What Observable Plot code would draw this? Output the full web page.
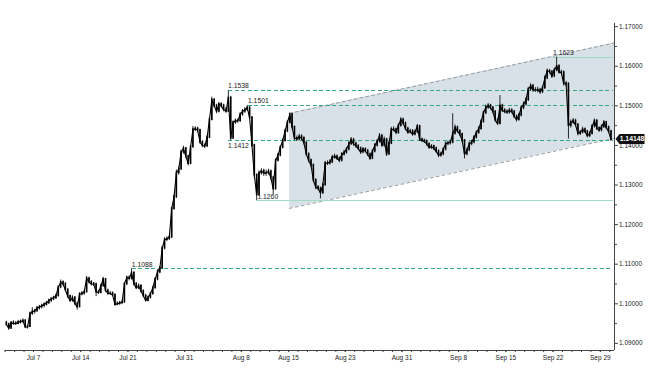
<!DOCTYPE html>
<html>
<head>
<meta charset="utf-8">
<script src="https://cdn.jsdelivr.net/npm/d3@7"></script>
<script src="https://cdn.jsdelivr.net/npm/@observablehq/plot@0.6"></script>
<style>
  html, body { margin: 0; padding: 0; background: #fff; }
  #chart svg { display: block; }
</style>
</head>
<body>
<div id="chart"></div>
<script>
// ---- data (trading-day axis, 4 bars per day, day 0 = Jul 4) ----
const barsPerDay = 4;
const firstOpen = 1.0952;
const close = [
  1.0948,1.0938,1.0952,1.0950, 1.0950,1.0953,1.0955,1.0957, 1.0941,1.0942,1.0975,1.0980,
  1.0982,1.0989,1.0992,1.0995, 1.0998,1.1002,1.1008,1.1012, 1.1015,1.1020,1.1042,1.1054,
  1.1050,1.1035,1.1019,1.1008, 1.1015,1.1000,1.0992,1.1024, 1.1026,1.1030,1.1064,1.1055,
  1.1050,1.1049,1.1030,1.1028, 1.1045,1.1062,1.1033,1.1026, 1.1026,1.1022,1.0998,1.1000,
  1.1002,1.1004,1.1050,1.1066, 1.1064,1.1078,1.1050,1.1040, 1.1045,1.1032,1.1020,1.1008,
  1.1016,1.1025,1.1040,1.1062, 1.1080,1.1090,1.1140,1.1162, 1.1164,1.1168,1.1240,1.1270,
  1.1330,1.1340,1.1383,1.1392, 1.1372,1.1354,1.1396,1.1440, 1.1442,1.1438,1.1408,1.1400,
  1.1398,1.1420,1.1465,1.1515, 1.1500,1.1486,1.1504,1.1500, 1.1490,1.1486,1.1520,1.1418,
  1.1458,1.1462,1.1462,1.1478, 1.1486,1.1490,1.1495,1.1470, 1.1400,1.1325,1.1275,1.1330,
  1.1335,1.1330,1.1330,1.1334, 1.1318,1.1290,1.1362,1.1375, 1.1395,1.1412,1.1436,1.1458,
  1.1478,1.1446,1.1418,1.1416, 1.1422,1.1418,1.1406,1.1378, 1.1362,1.1350,1.1312,1.1294,
  1.1291,1.1280,1.1300,1.1355, 1.1355,1.1358,1.1370,1.1372, 1.1367,1.1362,1.1377,1.1382,
  1.1390,1.1404,1.1414,1.1404, 1.1398,1.1392,1.1383,1.1390, 1.1386,1.1377,1.1367,1.1385,
  1.1400,1.1410,1.1424,1.1400, 1.1415,1.1378,1.1405,1.1440, 1.1440,1.1432,1.1450,1.1465,
  1.1456,1.1442,1.1433,1.1436, 1.1428,1.1434,1.1448,1.1415, 1.1412,1.1410,1.1403,1.1395,
  1.1397,1.1392,1.1385,1.1375, 1.1378,1.1390,1.1404,1.1406, 1.1408,1.1430,1.1445,1.1436,
  1.1428,1.1412,1.1378,1.1388, 1.1404,1.1408,1.1420,1.1432, 1.1442,1.1460,1.1482,1.1496,
  1.1500,1.1495,1.1485,1.1464, 1.1455,1.1500,1.1488,1.1485, 1.1484,1.1488,1.1485,1.1473,
  1.1465,1.1476,1.1495,1.1504, 1.1515,1.1542,1.1550,1.1540, 1.1540,1.1540,1.1535,1.1545,
  1.1570,1.1588,1.1586,1.1575, 1.1590,1.1600,1.1585,1.1584, 1.1556,1.1555,1.1450,1.1458,
  1.1462,1.1452,1.1430,1.1433, 1.1440,1.1435,1.1424,1.1430, 1.1448,1.1462,1.1443,1.1438,
  1.1447,1.1458,1.1445,1.1435, 1.14148
];
const high = [
  1.0956,1.0951,1.0955,1.0957, 1.0955,1.0958,1.0959,1.0962, 1.0960,1.0946,1.0979,1.0990,
  1.0986,1.0993,1.0996,1.0999, 1.1003,1.1006,1.1012,1.1016, 1.1019,1.1024,1.1046,1.1060,
  1.1058,1.1053,1.1038,1.1022, 1.1020,1.1018,1.1004,1.1028, 1.1031,1.1035,1.1069,1.1067,
  1.1058,1.1054,1.1052,1.1034, 1.1049,1.1067,1.1064,1.1037, 1.1031,1.1030,1.1025,1.1005,
  1.1006,1.1008,1.1054,1.1070, 1.1070,1.1088,1.1080,1.1054, 1.1050,1.1048,1.1035,1.1024,
  1.1020,1.1029,1.1044,1.1066, 1.1086,1.1094,1.1146,1.1167, 1.1169,1.1173,1.1244,1.1275,
  1.1338,1.1346,1.1388,1.1398, 1.1395,1.1375,1.1400,1.1448, 1.1447,1.1446,1.1441,1.1412,
  1.1404,1.1425,1.1470,1.1522, 1.1518,1.1504,1.1509,1.1508, 1.1504,1.1496,1.1538,1.1524,
  1.1462,1.1467,1.1467,1.1483, 1.1491,1.1495,1.1501,1.1498, 1.1473,1.1403,1.1328,1.1336,
  1.1341,1.1340,1.1338,1.1340, 1.1338,1.1322,1.1366,1.1380, 1.1400,1.1417,1.1441,1.1463,
  1.1482,1.1481,1.1449,1.1424, 1.1428,1.1427,1.1422,1.1409, 1.1381,1.1366,1.1353,1.1316,
  1.1299,1.1295,1.1305,1.1360, 1.1361,1.1364,1.1375,1.1378, 1.1376,1.1371,1.1382,1.1388,
  1.1395,1.1409,1.1420,1.1418, 1.1408,1.1402,1.1396,1.1395, 1.1394,1.1390,1.1381,1.1390,
  1.1405,1.1415,1.1430,1.1428, 1.1421,1.1418,1.1410,1.1446, 1.1447,1.1444,1.1455,1.1470,
  1.1469,1.1459,1.1446,1.1441, 1.1440,1.1439,1.1453,1.1451, 1.1419,1.1416,1.1414,1.1407,
  1.1402,1.1401,1.1396,1.1389, 1.1383,1.1395,1.1409,1.1411, 1.1413,1.1480,1.1452,1.1449,
  1.1440,1.1431,1.1415,1.1393, 1.1409,1.1413,1.1425,1.1437, 1.1447,1.1465,1.1487,1.1502,
  1.1506,1.1504,1.1498,1.1488, 1.1468,1.1526,1.1504,1.1493, 1.1490,1.1494,1.1493,1.1488,
  1.1477,1.1481,1.1500,1.1510, 1.1520,1.1547,1.1556,1.1554, 1.1546,1.1547,1.1544,1.1550,
  1.1576,1.1593,1.1592,1.1589, 1.1596,1.1623,1.1604,1.1590, 1.1588,1.1562,1.1558,1.1464,
  1.1468,1.1466,1.1455,1.1438, 1.1446,1.1444,1.1438,1.1435, 1.1453,1.1467,1.1465,1.1447,
  1.1452,1.1463,1.1461,1.1449, 1.1438
];
const low = [
  1.0944,1.0933,1.0936,1.0946, 1.0945,1.0947,1.0949,1.0951, 1.0937,1.0936,1.0940,1.0971,
  1.0974,1.0978,1.0984,1.0987, 1.0990,1.0994,1.0998,1.1003, 1.1008,1.1011,1.1017,1.1038,
  1.1045,1.1030,1.1014,1.1003, 1.1004,1.0996,1.0984,1.0990, 1.1020,1.1022,1.1027,1.1050,
  1.1045,1.1044,1.1018,1.1023, 1.1025,1.1042,1.1029,1.1021, 1.1021,1.1018,1.0993,1.0995,
  1.0996,1.0998,1.1001,1.1046, 1.1058,1.1060,1.1045,1.1036, 1.1036,1.1027,1.1015,1.1004,
  1.1005,1.1012,1.1022,1.1037, 1.1058,1.1076,1.1087,1.1136, 1.1157,1.1160,1.1165,1.1236,
  1.1266,1.1325,1.1337,1.1378, 1.1367,1.1348,1.1351,1.1393, 1.1435,1.1432,1.1403,1.1394,
  1.1392,1.1395,1.1417,1.1462, 1.1495,1.1480,1.1482,1.1494, 1.1485,1.1481,1.1483,1.1412,
  1.1415,1.1453,1.1456,1.1458, 1.1474,1.1481,1.1486,1.1465, 1.1395,1.1318,1.1260,1.1271,
  1.1325,1.1322,1.1322,1.1325, 1.1312,1.1275,1.1287,1.1358, 1.1371,1.1391,1.1408,1.1432,
  1.1454,1.1441,1.1412,1.1410, 1.1411,1.1412,1.1401,1.1372, 1.1356,1.1344,1.1306,1.1288,
  1.1285,1.1265,1.1276,1.1297, 1.1349,1.1350,1.1354,1.1365, 1.1362,1.1356,1.1358,1.1373,
  1.1378,1.1386,1.1400,1.1398, 1.1393,1.1387,1.1377,1.1379, 1.1381,1.1372,1.1362,1.1364,
  1.1381,1.1396,1.1406,1.1395, 1.1396,1.1372,1.1375,1.1402, 1.1434,1.1427,1.1428,1.1446,
  1.1451,1.1437,1.1428,1.1429, 1.1423,1.1424,1.1430,1.1410, 1.1407,1.1405,1.1398,1.1390,
  1.1390,1.1387,1.1380,1.1369, 1.1370,1.1374,1.1386,1.1399, 1.1401,1.1404,1.1426,1.1431,
  1.1423,1.1407,1.1366,1.1374, 1.1384,1.1399,1.1404,1.1416, 1.1428,1.1438,1.1456,1.1478,
  1.1491,1.1489,1.1480,1.1458, 1.1450,1.1452,1.1483,1.1480, 1.1478,1.1479,1.1480,1.1468,
  1.1459,1.1461,1.1472,1.1490, 1.1500,1.1511,1.1537,1.1534, 1.1534,1.1533,1.1529,1.1531,
  1.1541,1.1566,1.1580,1.1569, 1.1571,1.1586,1.1580,1.1578, 1.1550,1.1548,1.1416,1.1444,
  1.1453,1.1447,1.1424,1.1425, 1.1429,1.1430,1.1419,1.1420, 1.1426,1.1444,1.1438,1.1433,
  1.1434,1.1443,1.1440,1.1430, 1.1410
];

// axis ticks
const xTickDays = [3, 8, 13, 19, 25, 30, 36, 42, 48, 53, 58, 63];
const xTickLabels = ["Jul 7","Jul 14","Jul 21","Jul 31","Aug 8","Aug 15","Aug 23","Aug 31","Sep 8","Sep 15","Sep 22","Sep 29"];
const yMajorTicks = [1.09, 1.10, 1.11, 1.12, 1.13, 1.14, 1.15, 1.16, 1.17];
const yMinorTicks = [1.095, 1.105, 1.115, 1.125, 1.135, 1.145, 1.155, 1.165];

// horizontal levels (value, first trading day they are drawn from, kind, label side)
const levelValues = [1.1538, 1.1501, 1.1412, 1.1260, 1.1088, 1.1623];
const levelStartDay = [23.6, 25.7, 23.6, 26.7, 13.4, 58.0];
const levelKind = ["pivot", "pivot", "pivot", "extreme", "pivot", "extreme"];
const levelLabelSide = ["above", "above", "below", "above", "above", "above"];

// rising channel
const channelDay = [30.1, 64.5];
const channelTop = [1.1481, 1.1659];
const channelBottom = [1.1241, 1.1418];

const lastPrice = 1.14148;

// ---- build ----
const xDomain = [0, 64.5];
const yDomain = [1.0882, 1.1708];
const lineEnd = 64.3;

const bars = close.map((c, i) => ({
  x: (i + 0.5) / barsPerDay,
  o: i ? close[i - 1] : firstOpen,
  h: high[i], l: low[i], c
}));
const channel = channelDay.map((d, i) => ({x: d, hi: channelTop[i], lo: channelBottom[i]}));
const levels = levelValues.map((v, i) => ({
  v, x1: levelStartDay[i], x2: lineEnd, kind: levelKind[i], side: levelLabelSide[i]
}));
const allDays = d3.range(0, 65);

const font = "Liberation Sans, Arial, sans-serif";
const teal = "#35a884";
const mint = "#a2dbc6";

const chart = Plot.plot({
  width: 651,
  height: 372,
  marginLeft: 4.65,
  marginRight: 37,
  marginTop: 23,
  marginBottom: 22,
  style: {fontFamily: font, fontSize: "6.5px", color: "#222", background: "#fff"},
  x: {domain: xDomain, axis: null},
  y: {domain: yDomain, axis: null},
  marks: [
    Plot.areaY(channel, {x: "x", y1: "lo", y2: "hi", fill: "#d9e1e8"}),
    Plot.line(channel, {x: "x", y: "hi", stroke: "#8c9298", strokeWidth: 0.9, strokeDasharray: "3,3"}),
    Plot.line(channel, {x: "x", y: "lo", stroke: "#8c9298", strokeWidth: 0.9, strokeDasharray: "3,3"}),
    Plot.link(levels.filter(d => d.kind === "pivot"), {x1: "x1", x2: "x2", y1: "v", y2: "v", stroke: teal, strokeWidth: 1, strokeDasharray: "4,2.5", shapeRendering: "crispEdges"}),
    Plot.link(levels.filter(d => d.kind === "extreme"), {x1: "x1", x2: "x2", y1: "v", y2: "v", stroke: mint, strokeWidth: 1.1, shapeRendering: "crispEdges"}),
    // candles
    Plot.ruleX(bars, {x: "x", y1: "l", y2: "h", stroke: "#111", strokeWidth: 0.9}),
    Plot.line(bars, {x: "x", y: "c", stroke: "#000", strokeWidth: 1.1}),
    Plot.ruleX(bars, {x: "x", y1: "o", y2: "c", stroke: "#000", strokeWidth: 1.6, strokeLinecap: "square"}),
    // level labels
    Plot.text(levels.filter(d => d.side === "above"), {x: "x1", y: "v", text: d => d.v.toFixed(4), textAnchor: "start", dy: -4.5, fill: "#222", fontSize: 6.8}),
    Plot.text(levels.filter(d => d.side === "below"), {x: "x1", y: "v", text: d => d.v.toFixed(4), textAnchor: "start", dy: 5, fill: "#222", fontSize: 6.8}),
    // axes
    Plot.ruleX([xDomain[1]], {stroke: "#444", strokeWidth: 1}),
    Plot.ruleY([yDomain[0]], {stroke: "#444", strokeWidth: 1}),
    Plot.axisY(yMinorTicks, {anchor: "right", tickSize: 2, tickFormat: () => "", stroke: "#444"}),
    Plot.axisY(yMajorTicks, {anchor: "right", tickSize: 3, tickPadding: 1.5, tickFormat: d => d.toFixed(5), fontSize: 6.5, fill: "#222", stroke: "#444"}),
    Plot.axisX(allDays, {anchor: "bottom", tickSize: 2, tickFormat: () => "", stroke: "#444"}),
    Plot.axisX(xTickDays, {anchor: "bottom", tickSize: 2, tickPadding: 2.5, tickFormat: (d, i) => xTickLabels[i], fontSize: 6.5, fill: "#222", stroke: "#444"})
  ]
});

document.getElementById("chart").appendChild(chart);

// last-price tag on the right axis
const svg = d3.select(chart);
const xs = chart.scale("x"), ys = chart.scale("y");
const tx = xs.apply(xDomain[1]) + 1.5;
const ty = ys.apply(lastPrice);
const g = svg.append("g");
g.append("path")
  .attr("d", `M${tx},${ty} L${tx + 4},${ty - 5} L${tx + 29},${ty - 5} L${tx + 29},${ty + 5} L${tx + 4},${ty + 5} Z`)
  .attr("fill", "#111");
g.append("text")
  .attr("x", tx + 16.5).attr("y", ty)
  .attr("dy", "0.35em")
  .attr("text-anchor", "middle")
  .attr("fill", "#fff")
  .attr("font-family", font)
  .attr("font-size", 6.8)
  .attr("font-weight", "bold")
  .text(lastPrice.toFixed(5));
</script>
</body>
</html>
